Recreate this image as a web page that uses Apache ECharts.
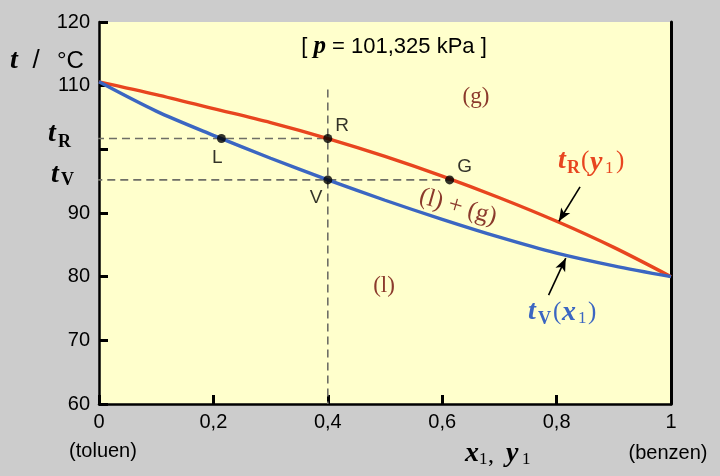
<!DOCTYPE html>
<html>
<head>
<meta charset="utf-8">
<script src="https://cdn.jsdelivr.net/npm/echarts@6/dist/echarts.min.js"></script>
<style>
  html, body { margin: 0; padding: 0; background: #cccccc; }
  #chart { width: 720px; height: 476px; }
</style>
</head>
<body>
<div id="chart"></div>
<script>
// mole fraction of benzene (liquid x1 / vapour y1)
const xFrac = [0, 0.1, 0.2, 0.3, 0.4, 0.5, 0.6, 0.7, 0.8, 0.9, 1];
// boiling curve t_V(x1), °C
const tBubble = [110.6, 106.0, 102.2, 98.6, 95.2, 92.0, 89.0, 86.2, 83.7, 81.7, 80.0];
// dew curve t_R(y1), °C
const tDew = [110.6, 108.6, 106.4, 104.2, 101.7, 98.9, 95.8, 92.4, 88.7, 84.6, 80.0];

// construction lines for the example mixture
const tR = 101.7;
const tV = 95.2;
const xFeed = 0.4;
const pointNames = ['L', 'R', 'V', 'G'];
const pointX = [0.214, 0.4, 0.4, 0.613];
const pointT = [101.7, 101.7, 95.2, 95.2];
const arrowDew = [[0.841, 94.1], [0.804, 88.7]];
const arrowBubble = [[0.786, 77.1], [0.816, 82.9]];

const yLabels = [60, 70, 80, 90, 110, 120];

const RED = '#e8451f';
const BLUE = '#3b66c2';
const BROWN = '#8b3a2c';
const SANS = 'Liberation Sans';
const SERIF = 'Liberation Serif';

let chart = echarts.init(document.getElementById('chart'));

function txt(x, y, text, font, fill, align, extra) {
  let el = {
    type: 'text', x: x, y: y, silent: true,
    style: { text: text, font: font, fill: fill || '#000', align: align || 'left', verticalAlign: 'middle' }
  };
  return Object.assign(el, extra || {});
}

const tFont = 'italic bold 28px ' + SERIF;
const subFont = 'bold 18px ' + SERIF;
const oneFont = '17px ' + SERIF;

let graphics = [
  // y axis title
  txt(10, 61, 't', tFont),
  txt(36, 61, '/', '26px ' + SANS, '#000', 'center'),
  txt(57, 61, '°C', '24px ' + SANS),
  // y labels at t_R and t_V
  txt(48, 134, 't', tFont),
  txt(58, 142, 'R', subFont),
  txt(51, 175, 't', tFont),
  txt(61, 180, 'V', subFont),
  // pressure
  {
    type: 'text', x: 394, y: 47, silent: true,
    style: {
      text: '{n|[ }{p|p}{n| = 101,325 kPa ]}',
      align: 'center', verticalAlign: 'middle',
      rich: {
        n: { font: '22px ' + SANS, fill: '#000' },
        p: { font: 'italic bold 25px ' + SERIF, fill: '#000' }
      }
    }
  },
  // phase regions
  txt(476, 97, '(g)', '23px ' + SERIF, BROWN, 'center'),
  txt(384, 286, '(l)', '23px ' + SERIF, BROWN, 'center'),
  txt(458, 207, '(l) + (g)', '25px ' + SERIF, BROWN, 'center', { rotation: -0.28 }),
  // curve labels
  txt(558, 161, 't', tFont, RED),
  txt(567, 168, 'R', subFont, RED),
  txt(581, 161, '(', '25px ' + SERIF, RED),
  txt(590, 163, 'y', tFont, RED),
  txt(605, 169, '1', oneFont, RED),
  txt(616, 161, ')', '25px ' + SERIF, RED),
  txt(528, 312, 't', tFont, BLUE),
  txt(538, 319, 'V', subFont, BLUE),
  txt(553, 312, '(', '25px ' + SERIF, BLUE),
  txt(562, 313, 'x', tFont, BLUE),
  txt(578, 319, '1', oneFont, BLUE),
  txt(588, 312, ')', '25px ' + SERIF, BLUE),
  // x axis title and ends
  txt(103, 451, '(toluen)', '20px ' + SANS, '#000', 'center'),
  txt(668, 453, '(benzen)', '20px ' + SANS, '#000', 'center'),
  txt(465, 454, 'x', tFont),
  txt(479, 460, '1', oneFont),
  txt(488, 456, ',', '24px ' + SERIF),
  txt(506, 454, 'y', tFont),
  txt(522, 460, '1', oneFont)
];

let option = {
  animation: false,
  backgroundColor: '#cccccc',
  grid: {
    left: 99, right: 49, top: 22, bottom: 72,
    show: true, backgroundColor: '#ffffcc', borderWidth: 0
  },
  xAxis: {
    type: 'value', min: 0, max: 1, interval: 0.2,
    axisLine: { lineStyle: { color: '#000', width: 2.5 } },
    axisTick: { inside: true, length: 9, lineStyle: { color: '#000', width: 3 } },
    axisLabel: {
      color: '#000', fontSize: 20, fontFamily: SANS, margin: 8,
      formatter: function (v) { return String(+v.toFixed(1)).replace('.', ','); }
    },
    splitLine: { show: false }
  },
  yAxis: [{
    type: 'value', min: 60, max: 120, interval: 10,
    axisLine: { show: true, lineStyle: { color: '#000', width: 2.5 } },
    axisTick: { inside: true, length: 9, lineStyle: { color: '#000', width: 3 } },
    axisLabel: {
      color: '#000', fontSize: 20, fontFamily: SANS, margin: 9,
      formatter: function (v) { return yLabels.indexOf(v) >= 0 ? String(v) : ''; }
    },
    splitLine: { show: false }
  }, {
    type: 'value', min: 60, max: 120, position: 'right',
    axisLine: { show: true, lineStyle: { color: '#000', width: 3 } },
    axisTick: { show: false }, axisLabel: { show: false }, splitLine: { show: false }
  }],
  series: [
    {
      type: 'line', name: 'dashR', clip: false, symbol: 'none', z: 2,
      lineStyle: { color: '#6e6e66', width: 1.6, type: [8, 5] },
      data: [[-0.028, tR], [xFeed, tR]]
    },
    {
      type: 'line', name: 'dashV', clip: false, symbol: 'none', z: 2,
      lineStyle: { color: '#6e6e66', width: 1.6, type: [8, 5] },
      data: [[-0.031, tV], [pointX[3], tV]]
    },
    {
      type: 'line', name: 'dashX', clip: false, symbol: 'none', z: 2,
      lineStyle: { color: '#6e6e66', width: 1.6, type: [8, 5] },
      data: [[xFeed, 109.4], [xFeed, 60]]
    },
    {
      type: 'line', name: 'tR', smooth: 0.3, symbol: 'none', z: 3,
      lineStyle: { color: RED, width: 3.4 },
      data: xFrac.map(function (x, i) { return [x, tDew[i]]; })
    },
    {
      type: 'line', name: 'tV', smooth: 0.3, symbol: 'none', z: 3,
      lineStyle: { color: BLUE, width: 3.4 },
      data: xFrac.map(function (x, i) { return [x, tBubble[i]]; })
    },
    {
      type: 'scatter', symbolSize: 9, z: 5,
      itemStyle: { color: '#000' },
      label: { show: true, formatter: '{b}', color: '#000', fontSize: 19, fontFamily: SANS },
      data: pointNames.map(function (n, i) {
        let lab = { position: 'right', distance: 3, offset: [0, -13] };
        if (n === 'L') lab = { position: 'bottom', distance: 5, offset: [-4, 0] };
        if (n === 'V') lab = { position: 'left', distance: 1, offset: [0, 18] };
        return { name: n, value: [pointX[i], pointT[i]], label: lab };
      })
    },
    {
      type: 'line', name: 'arrows', data: [], z: 6,
      markLine: {
        silent: true, symbol: ['none', 'arrow'], symbolSize: [8, 13],
        lineStyle: { color: '#000', width: 1.6, type: 'solid' },
        label: { show: false },
        data: [
          [{ coord: arrowDew[0] }, { coord: arrowDew[1] }],
          [{ coord: arrowBubble[0] }, { coord: arrowBubble[1] }]
        ]
      }
    }
  ],
  graphic: graphics
};

chart.setOption(option);
</script>
</body>
</html>
